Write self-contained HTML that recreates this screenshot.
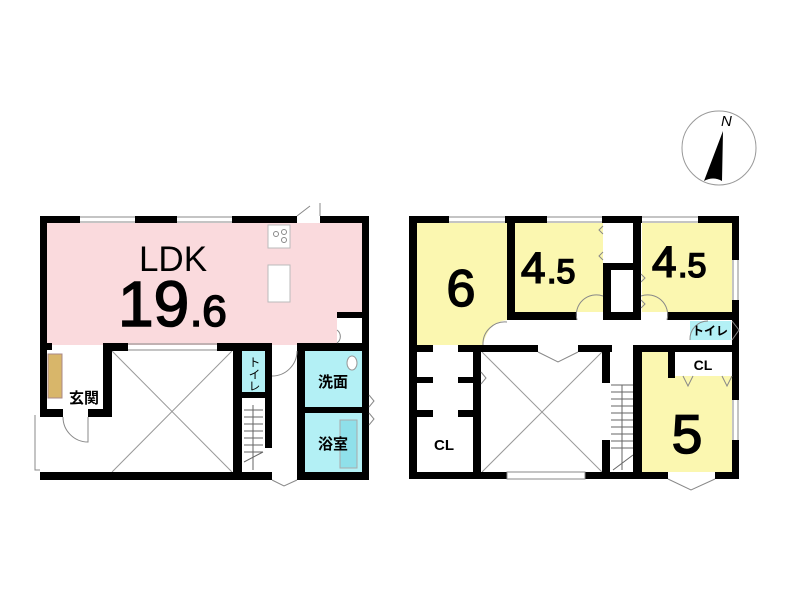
<!DOCTYPE html>
<html><head><meta charset="utf-8"><style>
html,body{margin:0;padding:0;background:#fff;}
svg{display:block}
text{font-family:"Liberation Sans","Noto Sans CJK JP",sans-serif;}
.big{stroke:#000;stroke-width:1.6;}
</style></head><body>
<svg width="800" height="596" viewBox="0 0 800 596" xmlns="http://www.w3.org/2000/svg">
<circle cx="719" cy="148" r="37" fill="#fff" stroke="#999" stroke-width="1"/>
<path d="M723,131 L704,181 Q713,176 722,181 Z" fill="#000"/>
<text x="721" y="126" font-family="Liberation Serif,serif" font-style="italic" font-size="15">N</text>

<rect x="47" y="223" width="315" height="122" fill="#fadadd"/>
<rect x="337" y="312" width="25" height="33" fill="#fff"/>
<rect x="242" y="350" width="23" height="42" fill="#b3f0f5"/>
<rect x="305" y="351" width="57" height="56" fill="#b3f0f5"/>
<rect x="305" y="413" width="57" height="59" fill="#b3f0f5"/>
<rect x="340" y="420" width="17" height="48" fill="#8fe0ea" stroke="#aaa" stroke-width="1"/>
<ellipse cx="352" cy="363" rx="5" ry="7" fill="#fff" stroke="#999"/>
<rect x="268" y="225" width="22" height="23" fill="#fff" stroke="#bbb"/>
<rect x="268" y="265" width="22" height="37" fill="#fff" stroke="#bbb"/>
<circle cx="276" cy="234" r="2.5" fill="none" stroke="#888"/><circle cx="284" cy="232" r="2.5" fill="none" stroke="#888"/><circle cx="284" cy="240" r="2.5" fill="none" stroke="#888"/>
<rect x="48" y="354" width="14" height="44" fill="#d8b66a" stroke="#a88"/>
<line x1="112" y1="351" x2="232" y2="472" stroke="#999"/>
<line x1="232" y1="351" x2="112" y2="472" stroke="#999"/>
<g stroke="#666" stroke-width="1">
<line x1="244" y1="410" x2="263" y2="410"/><line x1="244" y1="417" x2="263" y2="417"/><line x1="244" y1="424" x2="263" y2="424"/><line x1="244" y1="431" x2="263" y2="431"/><line x1="244" y1="438" x2="263" y2="438"/><line x1="244" y1="445" x2="263" y2="445"/><line x1="244" y1="452" x2="263" y2="452"/><line x1="253" y1="405" x2="253" y2="470"/>
<line x1="244" y1="462" x2="263" y2="452"/>
</g>
<g fill="#000">
<rect x="40" y="216" width="40" height="7"/>
<rect x="135" y="216" width="42" height="7"/>
<rect x="232" y="216" width="65" height="7"/>
<rect x="320" y="216" width="49" height="7"/>
<rect x="40" y="216" width="7" height="200"/>
<rect x="362" y="216" width="7" height="264"/>
<rect x="337" y="312" width="25" height="6"/>
<rect x="40" y="343" width="12" height="7"/>
<rect x="103" y="343" width="25" height="8"/>
<rect x="217" y="343" width="55" height="8"/>
<rect x="297" y="343" width="72" height="8"/>
<rect x="103" y="343" width="9" height="74"/>
<rect x="40" y="409" width="23" height="8"/>
<rect x="88" y="409" width="24" height="8"/>
<rect x="233" y="351" width="9" height="129"/>
<rect x="265" y="345" width="7" height="103"/>
<rect x="233" y="392" width="39" height="6"/>
<rect x="297" y="343" width="8" height="137"/>
<rect x="297" y="407" width="72" height="6"/>
<rect x="40" y="472" width="232" height="8"/>
<rect x="297" y="472" width="72" height="8"/>
</g>
<g stroke="#888" fill="none" stroke-width="1">
<line x1="80" y1="217" x2="135" y2="217"/><line x1="80" y1="222" x2="135" y2="222"/>
<line x1="177" y1="217" x2="232" y2="217"/><line x1="177" y1="222" x2="232" y2="222"/>
<line x1="128" y1="344" x2="217" y2="344"/><line x1="128" y1="350" x2="217" y2="350"/>
<path d="M297,216 L310,206"/><path d="M320,216 L320,203"/>
<path d="M35,415 L35,470 L40,470"/>
<path d="M63,417 A25,25 0 0 0 88,442 L88,417"/>
<path d="M272,376 A25,25 0 0 0 297,351"/>
<path d="M272,480 L284,486 L297,480"/>
<path d="M369,395 L374,401 L369,407"/><path d="M369,413 L374,419 L369,425"/>
<path d="M337,330 A8,8 0 0 1 337,343"/>
</g>
<text x="173" y="271" font-size="35" text-anchor="middle">LDK</text>
<text x="118" y="326" font-size="64" class="big">19</text>
<text x="190" y="326" font-size="44" class="big">.6</text>
<text x="254" y="356" font-size="12" text-anchor="start" writing-mode="tb">トイレ</text>
<text x="333" y="387" font-size="15" font-weight="bold" text-anchor="middle">洗面</text>
<text x="333" y="449" font-size="15" font-weight="bold" text-anchor="middle">浴室</text>
<text x="84" y="403" font-size="15" font-weight="bold" text-anchor="middle">玄関</text>

<path d="M417,223 L507,223 L507,320 Q488,322 483,345 L417,345 Z" fill="#fbf7b0"/>
<rect x="515" y="223" width="88" height="89" fill="#fbf7b0"/>
<rect x="642" y="223" width="90" height="89" fill="#fbf7b0"/>
<rect x="642" y="352" width="90" height="120" fill="#fbf7b0"/>
<rect x="675" y="352" width="57" height="24" fill="#fff"/>
<rect x="690" y="321" width="41" height="19" fill="#b3f0f5"/>
<line x1="482" y1="352" x2="602" y2="472" stroke="#999"/>
<line x1="602" y1="352" x2="482" y2="472" stroke="#999"/>
<g stroke="#666" stroke-width="1">
<line x1="611" y1="385" x2="633" y2="385"/><line x1="611" y1="392" x2="633" y2="392"/><line x1="611" y1="399" x2="633" y2="399"/><line x1="611" y1="406" x2="633" y2="406"/><line x1="611" y1="413" x2="633" y2="413"/><line x1="611" y1="420" x2="633" y2="420"/><line x1="611" y1="427" x2="633" y2="427"/><line x1="611" y1="434" x2="633" y2="434"/><line x1="611" y1="441" x2="633" y2="441"/><line x1="611" y1="448" x2="633" y2="448"/><line x1="622" y1="385" x2="622" y2="470"/><line x1="613" y1="470" x2="633" y2="455"/>
</g>
<g fill="#000">
<rect x="409" y="216" width="40" height="7"/>
<rect x="505" y="216" width="42" height="7"/>
<rect x="602" y="216" width="40" height="7"/>
<rect x="698" y="216" width="41" height="7"/>
<rect x="409" y="216" width="8" height="263"/>
<rect x="732" y="216" width="7" height="44"/>
<rect x="732" y="300" width="7" height="100"/>
<rect x="732" y="440" width="7" height="39"/>
<rect x="507" y="216" width="8" height="104"/>
<rect x="507" y="312" width="70" height="8"/>
<rect x="633" y="216" width="8" height="104"/>
<rect x="603" y="263" width="38" height="7"/>
<rect x="603" y="263" width="8" height="57"/>
<rect x="603" y="312" width="38" height="8"/>
<rect x="667" y="312" width="72" height="8"/>
<rect x="409" y="345" width="24" height="7"/>
<rect x="458" y="345" width="80" height="7"/>
<rect x="578" y="345" width="34" height="7"/>
<rect x="635" y="345" width="104" height="7"/>
<rect x="473" y="345" width="8" height="134"/>
<rect x="409" y="377" width="24" height="6"/>
<rect x="458" y="377" width="15" height="6"/>
<rect x="409" y="410" width="24" height="7"/>
<rect x="458" y="410" width="15" height="7"/>
<rect x="602" y="345" width="8" height="38"/>
<rect x="602" y="440" width="8" height="39"/>
<rect x="633" y="345" width="9" height="134"/>
<rect x="668" y="352" width="7" height="26"/>
<rect x="409" y="472" width="98" height="7"/>
<rect x="585" y="472" width="83" height="7"/>
<rect x="715" y="472" width="24" height="7"/>
</g>
<g stroke="#888" fill="none" stroke-width="1">
<line x1="449" y1="217" x2="505" y2="217"/><line x1="449" y1="222" x2="505" y2="222"/>
<line x1="547" y1="217" x2="602" y2="217"/><line x1="547" y1="222" x2="602" y2="222"/>
<line x1="642" y1="217" x2="698" y2="217"/><line x1="642" y1="222" x2="698" y2="222"/>
<line x1="733" y1="260" x2="733" y2="300"/><line x1="738" y1="260" x2="738" y2="300"/>
<line x1="733" y1="400" x2="733" y2="440"/><line x1="738" y1="400" x2="738" y2="440"/>
<rect x="507" y="472" width="78" height="7"/>
<path d="M538,352 L558,362 L578,352"/>
<path d="M668,479 L691,490 L715,479"/>
<path d="M481,372 L486,378 L481,384"/>
<path d="M577,320 A20,20 0 0 1 603,296"/>
<path d="M667,320 A20,20 0 0 0 641,296"/>
<path d="M483,345 A22,22 0 0 1 507,322"/>
<path d="M690,340 A18,18 0 0 1 708,321"/>
<path d="M732,321 L739,330 L732,340"/>
<path d="M683,376 L688,386 L693,376"/><path d="M722,376 L727,386 L732,376"/>
<path d="M603,226 L599,230 L603,234"/><path d="M603,252 L599,256 L603,260"/>
<path d="M641,274 L645,278 L641,282"/><path d="M641,300 L645,304 L641,308"/>
</g>
<text x="461" y="306" font-size="52" text-anchor="middle" class="big">6</text>
<text x="521" y="283" font-size="44" class="big">4</text>
<text x="547" y="283" font-size="34" class="big">.5</text>
<text x="652" y="277" font-size="44" class="big">4</text>
<text x="678" y="277" font-size="34" class="big">.5</text>
<text x="687" y="453" font-size="55" text-anchor="middle" class="big">5</text>
<text x="444" y="450" font-size="15" font-weight="bold" text-anchor="middle">CL</text>
<text x="703" y="370" font-size="14" font-weight="bold" text-anchor="middle">CL</text>
<text x="710" y="335" font-size="12" text-anchor="middle" font-weight="bold">トイレ</text>
</svg>
</body></html>
